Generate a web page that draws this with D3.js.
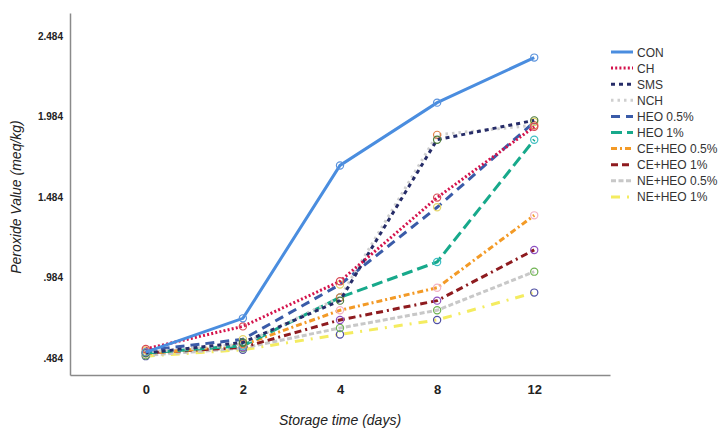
<!DOCTYPE html>
<html>
<head>
<meta charset="utf-8">
<script src="https://cdn.jsdelivr.net/npm/d3@7"></script>
<style>
  body { margin: 0; background: #fff; }
  svg { font-family: Arial, "Liberation Sans", sans-serif; }
</style>
</head>
<body>
<svg id="chart" width="722" height="428"></svg>
<script>
// storage days (categorical)
var days = ['0', '2', '4', '8', '12'];

var groups = ['CON', 'CH', 'SMS', 'NCH', 'HEO 0.5%', 'HEO 1%',
              'CE+HEO 0.5%', 'CE+HEO 1%', 'NE+HEO 0.5%', 'NE+HEO 1%'];

// peroxide value (meq/kg)
var con      = [0.52, 0.73, 1.68, 2.07, 2.35];
var ch       = [0.54, 0.68, 0.96, 1.48, 1.92];
var sms      = [0.515, 0.58, 0.84, 1.84, 1.96];
var nch      = [0.52, 0.57, 0.86, 1.87, 1.93];
var heo05    = [0.53, 0.60, 0.94, 1.42, 1.95];
var heo1     = [0.515, 0.56, 0.86, 1.08, 1.84];
var ceheo05  = [0.51, 0.565, 0.78, 0.92, 1.37];
var ceheo1   = [0.515, 0.55, 0.72, 0.84, 1.155];
var neheo05  = [0.50, 0.545, 0.67, 0.78, 1.02];
var neheo1   = [0.495, 0.535, 0.63, 0.72, 0.89];

var yTicks = [0.484, 0.984, 1.484, 1.984, 2.484];

var series = [con, ch, sms, nch, heo05, heo1, ceheo05, ceheo1, neheo05, neheo1];

var lineColor = ['#4a8ddf', '#d4134c', '#262c68', '#cfcfcf', '#3a5ba8',
                 '#17a98b', '#f39a26', '#8e1b1f', '#c8c8c8', '#f4ec60'];
var dash = ['none', '2,2.2', '4,4', '2.5,4', '9,6', '11,5',
            '6,3,2,3', '7,4,7,4,2,4', '5,2.5', '9,7,2,7'];
var markColor = ['#5b93dc', '#d94a55', '#4d7b3a', '#e0824a', '#e4d56c',
                 '#3fbfc4', '#f2b2c4', '#8e50c2', '#6fb352', '#4f4fa2'];

var svg = d3.select('#chart');
var margin = {top: 13, left: 70, right: 112, bottom: 53};
var width = 722 - margin.left - margin.right,
    height = 428 - margin.top - margin.bottom;

var g = svg.append('g').attr('transform', 'translate(' + margin.left + ',' + margin.top + ')');

var x = d3.scalePoint().domain(days).range([0, width]).padding(0.78);
var y = d3.scaleLinear().domain([0.378, 2.627]).range([height, 0]);

var fmt = function(v) { return d3.format('.3f')(v).replace(/^0\./, '.'); };

var yAxis = g.append('g')
  .call(d3.axisLeft(y).tickValues(yTicks).tickSize(0).tickPadding(7).tickFormat(fmt));
yAxis.select('.domain').attr('stroke', '#8a8a8a').attr('stroke-width', 1.5);
yAxis.selectAll('text').attr('font-size', 10).attr('font-weight', 'bold').attr('fill', '#222');

var xAxis = g.append('g')
  .attr('transform', 'translate(0,' + height + ')')
  .call(d3.axisBottom(x).tickSize(0).tickPadding(10));
xAxis.select('.domain').attr('stroke', '#8a8a8a').attr('stroke-width', 1.5);
xAxis.selectAll('text').attr('font-size', 13).attr('font-weight', 'bold').attr('fill', '#222');

var line = d3.line().x(function(d, i) { return x(days[i]); }).y(function(d) { return y(d); });

// draw back to front so CON sits on top
for (var k = series.length - 1; k >= 0; k--) {
  g.append('path')
    .datum(series[k])
    .attr('fill', 'none')
    .attr('stroke', lineColor[k])
    .attr('stroke-width', 3)
    .attr('stroke-dasharray', dash[k])
    .attr('d', line);

  g.selectAll('.m' + k)
    .data(series[k])
    .enter().append('circle')
    .attr('class', 'm' + k)
    .attr('cx', function(d, i) { return x(days[i]); })
    .attr('cy', function(d) { return y(d); })
    .attr('r', 3.6)
    .attr('fill', 'none')
    .attr('stroke', markColor[k])
    .attr('stroke-width', 1.2);
}

svg.append('text')
  .attr('transform', 'translate(21,' + 197 + ') rotate(-90)')
  .attr('text-anchor', 'middle')
  .attr('font-size', 14)
  .attr('font-style', 'italic')
  .attr('fill', '#222')
  .text('Peroxide Value (meq/kg)');

svg.append('text')
  .attr('x', 340)
  .attr('y', 425)
  .attr('text-anchor', 'middle')
  .attr('font-size', 14)
  .attr('font-style', 'italic')
  .attr('fill', '#222')
  .text('Storage time (days)');

// legend
var legend = svg.append('g').attr('transform', 'translate(611,52)');
groups.forEach(function(name, i) {
  var row = legend.append('g').attr('transform', 'translate(0,' + (i * 16.1) + ')');
  row.append('line')
    .attr('x1', 0).attr('x2', 22).attr('y1', 0).attr('y2', 0)
    .attr('stroke', lineColor[i])
    .attr('stroke-width', 3)
    .attr('stroke-dasharray', dash[i]);
  row.append('text')
    .attr('x', 26).attr('y', 4.5)
    .attr('font-size', 12)
    .attr('fill', '#333')
    .text(name);
});
</script>
</body>
</html>
